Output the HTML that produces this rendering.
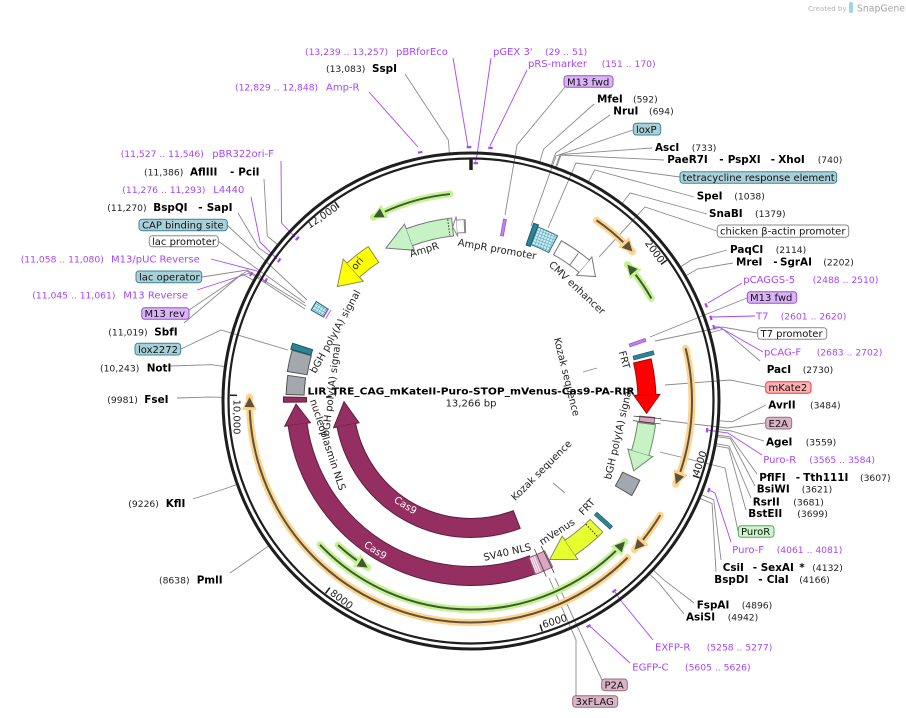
<!DOCTYPE html>
<html><head><meta charset="utf-8"><style>
html,body{margin:0;padding:0;background:#fff;}
svg{display:block;font-family:"DejaVu Sans","Liberation Sans",sans-serif;}
.e{font-weight:bold;font-size:10.4px;fill:#000;}
.n{font-size:9.2px;fill:#222;}
.p{font-size:10px;fill:#a846f5;}
.pn{font-size:9.2px;fill:#a846f5;}
.b{font-size:10px;fill:#111;}
.il{font-size:10px;fill:#222;}
.ll{fill:none;stroke:#8a8a8a;stroke-width:0.9;}
.pl{fill:none;stroke:#a846f5;stroke-width:0.9;}
</style></head><body>
<svg width="906" height="718" viewBox="0 0 906 718" xmlns="http://www.w3.org/2000/svg">
<defs>
<pattern id="grid" width="3" height="3" patternUnits="userSpaceOnUse"><rect width="3" height="3" fill="#c4ecf5"/><path d="M0 0H3M0 0V3" stroke="#2e7f93" stroke-width="0.7"/></pattern>
</defs>
<rect width="906" height="718" fill="#fff"/>

<!-- Created by SnapGene -->
<text x="808" y="11" font-size="7" fill="#b5b5b5">Created by</text>
<rect x="849" y="2" width="4" height="11" rx="1.5" fill="#9fd6ef"/>
<text x="857" y="11.5" font-size="9.3" fill="#a5a5a5">SnapGene</text>

<!-- enzyme leader lines -->
<polyline class="ll" points="405,74 448.3,140 449.5,154"/>
<polyline class="ll" points="594,104 543.5,149.2 539.6,162.7"/>
<polyline class="ll" points="610,115 555.6,153 551,166.3"/>
<polyline class="ll" points="652,148 560.1,154.6 555.4,167.8"/>
<polyline class="ll" points="664,160 561,155 556.1,168.1"/>
<polyline class="ll" points="694,197 594.7,170 588.1,182.4"/>
<polyline class="ll" points="707,214 630.2,192.9 621.7,204"/>
<polyline class="ll" points="727,250 691.7,259.7 679.9,267.3"/>
<polyline class="ll" points="733,263 697.3,269 685.2,276.1"/>
<polyline class="ll" points="760,361 723,329.2 709.5,333"/>
<polyline class="ll" points="766,405 732.2,421.8 718.2,420.7"/>
<polyline class="ll" points="764,441 731.3,431 717.4,429.4"/>
<polyline class="ll" points="757,474 730.5,436.9 716.7,435"/>
<polyline class="ll" points="755,486 730.3,438.6 716.4,436.6"/>
<polyline class="ll" points="751,498 729.1,446 715.3,443.6"/>
<polyline class="ll" points="746,510 728.7,448.2 714.9,445.7"/>
<polyline class="ll" points="721,560 713.7,499.7 700.7,494.4"/>
<polyline class="ll" points="716,572 712.1,503.6 699.2,498.1"/>
<polyline class="ll" points="694,603 663.1,579.2 652.8,569.6"/>
<polyline class="ll" points="684,614 659.1,583.3 649.1,573.6"/>
<polyline class="ll" points="264,179 267.3,236.2 278.2,245"/>
<polyline class="ll" points="238,213 258.6,247.7 269.9,255.8"/>
<polyline class="ll" points="184,323 241.9,273.9 254.1,280.7"/>
<polyline class="ll" points="170,366 211.5,364.7 225.4,366.7"/>
<polyline class="ll" points="177,398 209,397.1 223,397.3"/>
<polyline class="ll" points="193,499 224.3,489 237.4,484.3"/>
<polyline class="ll" points="230,573 257.9,553.5 269.3,545.4"/>

<!-- feature leader lines -->
<polyline class="ll" points="565,87 517,145 505,215"/>
<polyline class="ll" points="633,130 556,156 531,226"/>
<polyline class="ll" points="680,177 576,163 548,228"/>
<polyline class="ll" points="717,231 645,207 599,257"/>
<polyline class="ll" points="747,298 712,312 650,337"/>
<polyline class="ll" points="757,333 722,327 655,341"/>
<polyline class="ll" points="765,387 730,380 665,385"/>
<polyline class="ll" points="765,423 727,428 660,420"/>
<polyline class="ll" points="738,531 725,468 660,452"/>
<polyline class="ll" points="602,680 555,578"/>
<polyline class="ll" points="576,696 576,640 549,578"/>
<polyline class="ll" points="227,225 307,300"/>
<polyline class="ll" points="218,241 305,303"/>
<polyline class="ll" points="202,277 247,270 306,306"/>
<polyline class="ll" points="189,310 247,271 305,309"/>
<polyline class="ll" points="181,349 221,330 288,350"/>
<polyline class="ll" points="583,372 597,368"/>
<polyline class="ll" points="553,483 565,493"/>

<!-- primer lines -->
<polyline class="pl" points="369,92 418,147"/>
<polyline class="pl" points="453,58 468,147"/>
<polyline class="pl" points="491,58 477,155 475.5,162"/>
<polyline class="pl" points="527,70 490,146"/>
<polyline class="pl" points="281,161 281.5,223 295,237"/>
<polyline class="pl" points="251,197 260,242 277,259"/>
<polyline class="pl" points="211,259 257,271 264,281"/>
<polyline class="pl" points="197,290 250,273"/>
<polyline class="pl" points="742,283 708,303"/>
<polyline class="pl" points="755,316 711,317"/>
<polyline class="pl" points="763,352 719,327 714,327"/>
<polyline class="pl" points="762,455 728,433 707,430"/>
<polyline class="pl" points="731,542 715,493 709,490"/>
<polyline class="pl" points="653,640 622,602 615,592"/>
<polyline class="pl" points="630,663 592,628 589,626"/>

<!-- ring -->
<circle cx="471" cy="401" r="248" fill="none" stroke="#1e1e1e" stroke-width="3"/>
<circle cx="471" cy="401" r="242.5" fill="none" stroke="#1e1e1e" stroke-width="2.2"/>
<line x1="471" y1="159" x2="471" y2="170" stroke="#1e1e1e" stroke-width="3.5"/>
<g stroke="#1e1e1e" stroke-width="1.5">
<line x1="471" y1="159.8" x2="471" y2="167" transform="rotate(54.27 471 401)"/>
<line x1="471" y1="159.8" x2="471" y2="167" transform="rotate(108.55 471 401)"/>
<line x1="471" y1="159.8" x2="471" y2="167" transform="rotate(162.82 471 401)"/>
<line x1="471" y1="159.8" x2="471" y2="167" transform="rotate(217.1 471 401)"/>
<line x1="471" y1="159.8" x2="471" y2="167" transform="rotate(271.37 471 401)"/>
<line x1="471" y1="159.8" x2="471" y2="167" transform="rotate(325.64 471 401)"/>
</g>

<!-- primer marks -->
<g fill="#a846f5">
<rect x="469" y="146" width="4.5" height="2.2" transform="rotate(348.4 471 401)"/>
<rect x="469" y="146" width="4.5" height="2.2" transform="rotate(359.5 471 401)"/>
<rect x="469" y="162" width="4.5" height="2.2" transform="rotate(1.09 471 401)"/>
<rect x="469" y="146" width="4.5" height="2.2" transform="rotate(4.34 471 401)"/>
<rect x="469" y="162" width="4.5" height="2.2" transform="rotate(313.05 471 401)"/>
<rect x="469" y="162" width="4.5" height="2.2" transform="rotate(306.2 471 401)"/>
<rect x="469" y="162" width="4.5" height="2.2" transform="rotate(300.38 471 401)"/>
<rect x="469" y="146" width="4.5" height="2.2" transform="rotate(299.94 471 401)"/>
<rect x="469" y="146" width="4.5" height="2.2" transform="rotate(67.82 471 401)"/>
<rect x="469" y="146" width="4.5" height="2.2" transform="rotate(70.83 471 401)"/>
<rect x="469" y="146" width="4.5" height="2.2" transform="rotate(73.05 471 401)"/>
<rect x="469" y="162" width="4.5" height="2.2" transform="rotate(96.99 471 401)"/>
<rect x="469" y="146" width="4.5" height="2.2" transform="rotate(110.48 471 401)"/>
<rect x="469" y="162" width="4.5" height="2.2" transform="rotate(142.93 471 401)"/>
<rect x="469" y="146" width="4.5" height="2.2" transform="rotate(152.37 471 401)"/>
</g>

<!-- ORFs -->
<g fill="none" stroke-linecap="round">
<!-- green highlights -->
<circle cx="471" cy="401" r="208" stroke="#c4f294" stroke-width="7" stroke-dasharray="80.59 3000" transform="rotate(-118 471 401)"/>
<circle cx="471" cy="401" r="207.5" stroke="#c4f294" stroke-width="7" stroke-dasharray="41.65 3000" transform="rotate(-41.1 471 401)"/>
<circle cx="471" cy="401" r="208.5" stroke="#c4f294" stroke-width="7" stroke-dasharray="342.07 3000" transform="rotate(42.4 471 401)"/>
<circle cx="471" cy="401" r="196" stroke="#c4f294" stroke-width="7" stroke-dasharray="37.29 3000" transform="rotate(121.8 471 401)"/>
<!-- orange highlights -->
<circle cx="471" cy="401" r="220" stroke="#ffd38a" stroke-width="7" stroke-dasharray="47.61 3000" transform="rotate(-55.2 471 401)"/>
<circle cx="471" cy="401" r="221" stroke="#ffd38a" stroke-width="7" stroke-dasharray="138.47 3000" transform="rotate(-13.8 471 401)"/>
<circle cx="471" cy="401" r="221" stroke="#ffd38a" stroke-width="7" stroke-dasharray="43.2 3000" transform="rotate(31.1 471 401)"/>
<circle cx="471" cy="401" r="221.5" stroke="#ffd38a" stroke-width="7" stroke-dasharray="525.77 3000" transform="rotate(45 471 401)"/>
</g>
<g fill="none" stroke-width="2">
<circle cx="471" cy="401" r="208" stroke="#3f5a2e" stroke-dasharray="70.43 3000" transform="rotate(-115.2 471 401)"/>
<circle cx="471" cy="401" r="207.5" stroke="#3f5a2e" stroke-dasharray="31.51 3000" transform="rotate(-38.3 471 401)"/>
<circle cx="471" cy="401" r="208.5" stroke="#3f5a2e" stroke-dasharray="331.88 3000" transform="rotate(45.2 471 401)"/>
<circle cx="471" cy="401" r="196" stroke="#3f5a2e" stroke-dasharray="27.37 3000" transform="rotate(124.7 471 401)"/>
<circle cx="471" cy="401" r="220" stroke="#5b5240" stroke-dasharray="37.63 3000" transform="rotate(-55.2 471 401)"/>
<circle cx="471" cy="401" r="221" stroke="#5b5240" stroke-dasharray="128.44 3000" transform="rotate(-13.8 471 401)"/>
<circle cx="471" cy="401" r="221" stroke="#5b5240" stroke-dasharray="33.17 3000" transform="rotate(31.1 471 401)"/>
<circle cx="471" cy="401" r="221.5" stroke="#5b5240" stroke-dasharray="515.71 3000" transform="rotate(45 471 401)"/>
</g>
<!-- ORF heads -->
<g transform="rotate(-28 471 401)"><polygon points="467,193 484,185.5 484,200.5" fill="#c4f294"/><polygon points="471,193 481,188.2 481,198.2" fill="#3f5a2e"/></g>
<g transform="rotate(48.9 471 401)"><polygon points="467,193.5 484,186 484,201" fill="#c4f294"/><polygon points="471,193.5 481,188.7 481,198.7" fill="#3f5a2e"/></g>
<g transform="rotate(132.4 471 401)"><polygon points="467,192.5 484,185 484,200" fill="#c4f294"/><polygon points="471,192.5 481,187.7 481,197.7" fill="#3f5a2e"/></g>
<g transform="rotate(211.8 471 401)"><polygon points="467,205 484,197.5 484,212.5" fill="#c4f294"/><polygon points="471,205 481,200.2 481,210.2" fill="#3f5a2e"/></g>
<g transform="rotate(47.2 471 401)"><polygon points="475,181 458,173.5 458,188.5" fill="#ffd38a"/><polygon points="471,181 461,176.2 461,186.2" fill="#5b5240"/></g>
<g transform="rotate(112.1 471 401)"><polygon points="475,180 458,172.5 458,187.5" fill="#ffd38a"/><polygon points="471,180 461,175.2 461,185.2" fill="#5b5240"/></g>
<g transform="rotate(132.3 471 401)"><polygon points="475,180 458,172.5 458,187.5" fill="#ffd38a"/><polygon points="471,180 461,175.2 461,185.2" fill="#5b5240"/></g>
<g transform="rotate(271 471 401)"><polygon points="475,179.5 458,172 458,187" fill="#ffd38a"/><polygon points="471,179.5 461,174.7 461,184.7" fill="#5b5240"/></g>

<!-- FEATURES -->
<g fill="none">
<!-- outer Cas9 -->
<circle cx="471" cy="401" r="175" stroke="#5e1f3d" stroke-width="20" stroke-dasharray="315 3000" transform="rotate(69.17 471 401)"/>
<polygon points="471,226 449.06,214.29 452.1,240.1" fill="#952f62" stroke="#5e1f3d" stroke-width="1" transform="rotate(269 471 401)"/>
<circle cx="471" cy="401" r="175" stroke="#952f62" stroke-width="18" stroke-dasharray="313.99 3000" transform="rotate(69.5 471 401)"/>
<!-- inner Cas9 -->
<circle cx="471" cy="401" r="127" stroke="#5e1f3d" stroke-width="20" stroke-dasharray="222.4 3000" transform="rotate(68.65 471 401)"/>
<polygon points="471,274 445.01,263.44 449.83,288.98" fill="#952f62" stroke="#5e1f3d" stroke-width="1" transform="rotate(269.7 471 401)"/>
<circle cx="471" cy="401" r="127" stroke="#952f62" stroke-width="18" stroke-dasharray="221.43 3000" transform="rotate(69.1 471 401)"/>

<!-- AmpR -->
<circle cx="471" cy="401" r="175" stroke="#787878" stroke-width="19" stroke-dasharray="44.98 3000" transform="rotate(-110.6 471 401)"/>
<polygon points="471,226 498.94,214.07 494.8,241.77" fill="#c6f2c6" stroke="#787878" stroke-width="1" transform="rotate(-29.1 471 401)"/>
<circle cx="471" cy="401" r="175" stroke="#c6f2c6" stroke-width="17" stroke-dasharray="43.98 3000" transform="rotate(-110.6 471 401)"/>
<line x1="471" y1="218" x2="471" y2="234" stroke="#333" stroke-width="1" stroke-dasharray="1.5 1.5" transform="rotate(-7.3 471 401)"/>
<!-- AmpR promoter -->
<circle cx="471" cy="401" r="175" stroke="#888" stroke-width="14" stroke-dasharray="9.02 3000" transform="rotate(-94.6 471 401)"/>
<polygon points="471,226 475.52,216.05 475.04,236.05" fill="#fff" stroke="#888" stroke-width="1" transform="rotate(-6 471 401)"/>
<circle cx="471" cy="401" r="175" stroke="#fff" stroke-width="12" stroke-dasharray="7.02 3000" transform="rotate(-94.6 471 401)"/>
<!-- ori -->
<circle cx="471" cy="401" r="176" stroke="#8a8a5a" stroke-width="20" stroke-dasharray="26.19 3000" transform="rotate(-132 471 401)"/>
<polygon points="471,225 495.6,211.6 491.7,241.3" fill="#ffff00" stroke="#8a8a5a" stroke-width="1" transform="rotate(-49.4 471 401)"/>
<circle cx="471" cy="401" r="176" stroke="#ffff00" stroke-width="18" stroke-dasharray="25.19 3000" transform="rotate(-132 471 401)"/>
<!-- CMV enhancer -->
<circle cx="471" cy="401" r="176" stroke="#777" stroke-width="17" stroke-dasharray="32.95 3000" transform="rotate(-60.73 471 401)"/>
<polygon points="471,225 454.6,213.7 456.7,237.6" fill="#fff" stroke="#777" stroke-width="1" transform="rotate(45 471 401)"/>
<circle cx="471" cy="401" r="176" stroke="#fff" stroke-width="15" stroke-dasharray="31.95 3000" transform="rotate(-60.4 471 401)"/>
<line x1="471" y1="218.5" x2="471" y2="233.5" stroke="#777" stroke-width="1" transform="rotate(36 471 401)"/>
<!-- TRE -->
<circle cx="471" cy="401" r="177" stroke="#2d6e7e" stroke-width="20" stroke-dasharray="22.7 3000" transform="rotate(-69.52 471 401)"/>
<circle cx="471" cy="401" r="177" stroke="url(#grid)" stroke-width="18" stroke-dasharray="20.7 3000" transform="rotate(-69.2 471 401)"/>
<!-- loxP -->
<circle cx="471" cy="401" r="177" stroke="#1d5563" stroke-width="24" stroke-dasharray="5.7 3000" transform="rotate(-70.72 471 401)"/>
<circle cx="471" cy="401" r="177" stroke="#2b8597" stroke-width="22" stroke-dasharray="3.7 3000" transform="rotate(-70.4 471 401)"/>
<!-- small hatched (lac) -->
<circle cx="471" cy="401" r="177" stroke="#2d6e7e" stroke-width="15" stroke-dasharray="10.65 3000" transform="rotate(-150.52 471 401)"/>
<circle cx="471" cy="401" r="177" stroke="url(#grid)" stroke-width="13" stroke-dasharray="8.65 3000" transform="rotate(-150.2 471 401)"/>
<circle cx="471" cy="401" r="167" stroke="#b060f0" stroke-width="1" stroke-dasharray="10.2 3000" transform="rotate(-150.5 471 401)"/>
<circle cx="471" cy="401" r="169.5" stroke="#b060f0" stroke-width="1" stroke-dasharray="10.3 3000" transform="rotate(-150.5 471 401)"/>
<!-- mKate2 -->
<circle cx="471" cy="401" r="176" stroke="#b00000" stroke-width="19" stroke-dasharray="34.79 3000" transform="rotate(-13.33 471 401)"/>
<polygon points="471,225 451.25,213.04 453.97,238.9" fill="#ff0000" stroke="#b00000" stroke-width="1" transform="rotate(94 471 401)"/>
<circle cx="471" cy="401" r="176" stroke="#ff0000" stroke-width="17" stroke-dasharray="33.79 3000" transform="rotate(-13 471 401)"/>
<!-- E2A -->
<circle cx="471" cy="401" r="177" stroke="#8c5b72" stroke-width="16" stroke-dasharray="6.94 3000" transform="rotate(4.98 471 401)"/>
<circle cx="471" cy="401" r="177" stroke="#d7a6bd" stroke-width="14" stroke-dasharray="4.94 3000" transform="rotate(5.3 471 401)"/>
<line x1="471" y1="210" x2="471" y2="238" stroke="#333" stroke-width="0.7" transform="rotate(95.3 471 401)"/>
<line x1="471" y1="210" x2="471" y2="238" stroke="#333" stroke-width="0.7" transform="rotate(96.9 471 401)"/>
<!-- PuroR -->
<circle cx="471" cy="401" r="177" stroke="#6c8c6c" stroke-width="19" stroke-dasharray="30.35 3000" transform="rotate(7.18 471 401)"/>
<polygon points="471,224 450.48,212.1 453.28,237.95" fill="#c6f2c6" stroke="#6c8c6c" stroke-width="1" transform="rotate(113.2 471 401)"/>
<circle cx="471" cy="401" r="177" stroke="#c6f2c6" stroke-width="17" stroke-dasharray="29.35 3000" transform="rotate(7.5 471 401)"/>
<!-- bGH grey right -->
<circle cx="471" cy="401" r="177" stroke="#555" stroke-width="20" stroke-dasharray="17.44 3000" transform="rotate(24.98 471 401)"/>
<circle cx="471" cy="401" r="177" stroke="#a3a7ae" stroke-width="18" stroke-dasharray="15.44 3000" transform="rotate(25.3 471 401)"/>
<!-- mVenus -->
<circle cx="471" cy="401" r="177" stroke="#8a8a6a" stroke-width="19" stroke-dasharray="34.98 3000" transform="rotate(44.68 471 401)"/>
<polygon points="471,224 445.73,211.68 449.43,239.44" fill="#e6ff2e" stroke="#8a8a6a" stroke-width="1" transform="rotate(153.6 471 401)"/>
<circle cx="471" cy="401" r="177" stroke="#e6ff2e" stroke-width="17" stroke-dasharray="33.98 3000" transform="rotate(45 471 401)"/>
<line x1="471" y1="216" x2="471" y2="233" stroke="#222" stroke-width="1" stroke-dasharray="1.5 1.5" transform="rotate(137 471 401)"/>
<!-- P2A / SV40 -->
<circle cx="471" cy="401" r="176" stroke="#8c5b72" stroke-width="19" stroke-dasharray="18.9 3000" transform="rotate(63.67 471 401)"/>
<circle cx="471" cy="401" r="176" stroke="#d9a5c0" stroke-width="17" stroke-dasharray="9.83 3000" transform="rotate(64 471 401)"/>
<circle cx="471" cy="401" r="176" stroke="#e2a9c4" stroke-width="17" stroke-dasharray="7.07 3000" transform="rotate(67.2 471 401)"/>
<g stroke="#fff" stroke-width="0.8">
<line x1="471" y1="217" x2="471" y2="233" transform="rotate(157.9 471 401)"/>
<line x1="471" y1="217" x2="471" y2="233" transform="rotate(158.6 471 401)"/>
<line x1="471" y1="217" x2="471" y2="233" transform="rotate(159.2 471 401)"/>
</g>
<g stroke="#333" stroke-width="0.7">
<line x1="471" y1="210" x2="471" y2="240" transform="rotate(154.2 471 401)"/>
<line x1="471" y1="210" x2="471" y2="240" transform="rotate(156.8 471 401)"/>
</g>
<!-- nucleoplasmin -->
<circle cx="471" cy="401" r="176" stroke="#5e1f3d" stroke-width="24" stroke-dasharray="5.99 3000" transform="rotate(179.47 471 401)"/>
<circle cx="471" cy="401" r="176" stroke="#952f62" stroke-width="22" stroke-dasharray="3.99 3000" transform="rotate(179.8 471 401)"/>
<!-- grey boxes left -->
<circle cx="471" cy="401" r="176" stroke="#555" stroke-width="19" stroke-dasharray="19.2 3000" transform="rotate(181.87 471 401)"/>
<circle cx="471" cy="401" r="176" stroke="#a3a7ae" stroke-width="17" stroke-dasharray="17.2 3000" transform="rotate(182.2 471 401)"/>
<circle cx="471" cy="401" r="176" stroke="#555" stroke-width="21" stroke-dasharray="21.66 3000" transform="rotate(188.97 471 401)"/>
<circle cx="471" cy="401" r="176" stroke="#a3a7ae" stroke-width="19" stroke-dasharray="19.66 3000" transform="rotate(189.3 471 401)"/>
<!-- lox2272 -->
<circle cx="471" cy="401" r="177" stroke="#1d5563" stroke-width="22" stroke-dasharray="6.94 3000" transform="rotate(195.88 471 401)"/>
<circle cx="471" cy="401" r="177" stroke="#2b8597" stroke-width="20" stroke-dasharray="4.94 3000" transform="rotate(196.2 471 401)"/>
</g>
<!-- thin bars -->
<rect x="469.5" y="216" width="3" height="17" fill="#c080f0" stroke="#8e44c8" stroke-width="0.6" transform="rotate(10.6 471 401)"/>
<rect x="469.5" y="216" width="3" height="17" fill="#c080f0" stroke="#8e44c8" stroke-width="0.6" transform="rotate(70.7 471 401)"/>
<rect x="469" y="212" width="4" height="21" fill="#2b8597" stroke="#1d5563" stroke-width="0.6" transform="rotate(75.2 471 401)"/>
<rect x="469" y="212" width="4" height="21" fill="#2b8597" stroke="#1d5563" stroke-width="0.6" transform="rotate(132.1 471 401)"/>

<!-- tick labels -->
<g class="il" text-anchor="middle" dominant-baseline="central">
<text x="654" y="252" transform="rotate(54 654 252)">2000</text>
<text x="700.5" y="463.5" transform="rotate(-71.5 700.5 463.5)">4000</text>
<text x="555" y="622" transform="rotate(-17 555 622)">6000</text>
<text x="341" y="600" transform="rotate(37 341 600)">8000</text>
<text x="236" y="417" transform="rotate(90 236 417)">10,000</text>
<text x="322.5" y="217" transform="rotate(-34 322.5 217)">12,000</text>
</g>

<!-- inner labels -->
<g class="il" text-anchor="middle" dominant-baseline="central">
<text x="424.5" y="250.5" transform="rotate(-17 424.5 250.5)">AmpR</text>
<text x="497" y="250" transform="rotate(10 497 250)">AmpR promoter</text>
<text x="576.5" y="288.5" transform="rotate(43 576.5 288.5)">CMV enhancer</text>
<text x="358" y="264" transform="rotate(-50 358 264)">ori</text>
<text x="336" y="332" transform="rotate(-61 336 332)">bGH poly(A) signal</text>
<text x="332" y="390" transform="rotate(-83 332 390)">bGH poly(A) signal</text>
<text x="327" y="445" transform="rotate(72 327 445)">nucleoplasmin NLS</text>
<text x="566" y="377" transform="rotate(76 566 377)">Kozak sequence</text>
<text x="542" y="471" transform="rotate(-45 542 471)">Kozak sequence</text>
<text x="623.5" y="360" transform="rotate(75 623.5 360)">FRT</text>
<text x="619" y="434" transform="rotate(-77 619 434)">bGH poly(A) signal</text>
<text x="587.5" y="507.5" transform="rotate(-47 587.5 507.5)">FRT</text>
<text x="557.5" y="532.5" transform="rotate(-33 557.5 532.5)">mVenus</text>
<text x="507.5" y="553" transform="rotate(-13 507.5 553)">SV40 NLS</text>
<text x="405" y="506" fill="#fff" style="fill:#fff" transform="rotate(32 405 506)">Cas9</text>
<text x="375" y="551" fill="#fff" style="fill:#fff" transform="rotate(33 375 551)">Cas9</text>
</g>

<!-- title -->
<text x="471" y="394.5" text-anchor="middle" font-weight="bold" font-size="10" fill="#000" textLength="327" lengthAdjust="spacingAndGlyphs">LIR_TRE_CAG_mKateII-Puro-STOP_mVenus-Cas9-PA-RIR</text>
<text x="471" y="406.5" text-anchor="middle" font-size="10" fill="#222">13,266 bp</text>

<!-- label boxes -->
<g stroke-width="1">
<rect x="564" y="75.7" width="49" height="11.6" rx="3" fill="#dbb4f7" stroke="#9b4fd0"/>
<rect x="633.3" y="123.3" width="27.4" height="11.7" rx="3" fill="#a9d0d9" stroke="#3d8595"/>
<rect x="680" y="171.7" width="156.7" height="11.6" rx="3" fill="#a9d0d9" stroke="#3d8595"/>
<rect x="717.3" y="225" width="131.4" height="12.3" rx="3" fill="#fff" stroke="#888"/>
<rect x="747.3" y="291.7" width="49.4" height="11.6" rx="3" fill="#dbb4f7" stroke="#9b4fd0"/>
<rect x="757.7" y="327.7" width="69" height="11.6" rx="3" fill="#fff" stroke="#888"/>
<rect x="765.7" y="381.7" width="45.3" height="11.6" rx="3" fill="#ffb3b3" stroke="#ff3030"/>
<rect x="765.7" y="417.3" width="26" height="11.7" rx="3" fill="#dab3c7" stroke="#9a6b82"/>
<rect x="738.3" y="525.7" width="35.7" height="11.6" rx="3" fill="#ccf5cc" stroke="#5fa05f"/>
<rect x="601.7" y="679" width="25.6" height="11.7" rx="3" fill="#dab3c7" stroke="#9a6b82"/>
<rect x="572.7" y="695.7" width="45" height="11.6" rx="3" fill="#dab3c7" stroke="#9a6b82"/>
<rect x="139" y="219.3" width="88.3" height="11.4" rx="3" fill="#a9d0d9" stroke="#3d8595"/>
<rect x="149.3" y="235.7" width="69" height="11" rx="3" fill="#fff" stroke="#888"/>
<rect x="136" y="271" width="65.7" height="11.7" rx="3" fill="#a9d0d9" stroke="#3d8595"/>
<rect x="141.7" y="307.7" width="47.3" height="11.6" rx="3" fill="#dbb4f7" stroke="#9b4fd0"/>
<rect x="135" y="343.3" width="45.7" height="11.7" rx="3" fill="#a9d0d9" stroke="#3d8595"/>
</g>
<g class="b">
<text x="567" y="85.3">M13 fwd</text>
<text x="636" y="132.8">loxP</text>
<text x="682.5" y="181.2">tetracycline response element</text>
<text x="720" y="234.7">chicken β-actin promoter</text>
<text x="750" y="301.2">M13 fwd</text>
<text x="760.5" y="337.2">T7 promoter</text>
<text x="768.5" y="391.2">mKate2</text>
<text x="768.5" y="426.8">E2A</text>
<text x="741" y="535.2">PuroR</text>
<text x="604.5" y="688.5">P2A</text>
<text x="575.5" y="705.2">3xFLAG</text>
<text x="142" y="228.6">CAP binding site</text>
<text x="152" y="244.8">lac promoter</text>
<text x="139" y="280.5">lac operator</text>
<text x="144.5" y="317.2">M13 rev</text>
<text x="138" y="352.8">lox2272</text>
</g>

<!-- primer labels -->
<text class="pn" x="305" y="55">(13,239 .. 13,257)</text>
<text class="p" x="396" y="55">pBRforEco</text>
<text class="pn" x="235" y="90.3">(12,829 .. 12,848)</text>
<text class="p" x="326" y="90.3">Amp-R</text>
<text class="p" x="493" y="55">pGEX 3'</text>
<text class="pn" x="545" y="55">(29 .. 51)</text>
<text class="p" x="528" y="67">pRS-marker</text>
<text class="pn" x="601.7" y="67">(151 .. 170)</text>
<text class="p" x="743.3" y="282.9">pCAGGS-5</text>
<text class="pn" x="812.7" y="282.9">(2488 .. 2510)</text>
<text class="p" x="756" y="319.3">T7</text>
<text class="pn" x="780.7" y="319.3">(2601 .. 2620)</text>
<text class="p" x="764" y="355.3">pCAG-F</text>
<text class="pn" x="816.7" y="355.3">(2683 .. 2702)</text>
<text class="p" x="763.3" y="462.9">Puro-R</text>
<text class="pn" x="809.3" y="462.9">(3565 .. 3584)</text>
<text class="p" x="732.3" y="552.9">Puro-F</text>
<text class="pn" x="776.7" y="552.9">(4061 .. 4081)</text>
<text class="p" x="655" y="650.3">EXFP-R</text>
<text class="pn" x="706.7" y="650.3">(5258 .. 5277)</text>
<text class="p" x="632.3" y="670.3">EGFP-C</text>
<text class="pn" x="685" y="670.3">(5605 .. 5626)</text>
<text class="pn" x="120.7" y="156.9">(11,527 .. 11,546)</text>
<text class="p" x="212.3" y="156.9">pBR322ori-F</text>
<text class="pn" x="122.3" y="192.9">(11,276 .. 11,293)</text>
<text class="p" x="213.3" y="192.9">L4440</text>
<text class="pn" x="20.7" y="262.6">(11,058 .. 11,080)</text>
<text class="p" x="111" y="262.6">M13/pUC Reverse</text>
<text class="pn" x="32.3" y="298.6">(11,045 .. 11,061)</text>
<text class="p" x="123.3" y="298.6">M13 Reverse</text>

<!-- enzyme labels -->
<text class="n" x="326" y="72">(13,083)</text><text class="e" x="372" y="72">SspI</text>
<text class="e" x="597" y="102.6">MfeI</text><text class="n" x="633" y="102.6">(592)</text>
<text class="e" x="613.3" y="114.6">NruI</text><text class="n" x="649" y="114.6">(694)</text>
<text class="e" x="655" y="150.9">AscI</text><text class="n" x="691.7" y="150.9">(733)</text>
<text class="e" x="667.3" y="162.9">PaeR7I</text><text class="e" x="719.3" y="162.9">-</text><text class="e" x="727.7" y="162.9">PspXI</text><text class="e" x="770.7" y="162.9">-</text><text class="e" x="778.3" y="162.9">XhoI</text><text class="n" x="817.7" y="162.9">(740)</text>
<text class="e" x="696.7" y="199.3">SpeI</text><text class="n" x="734.3" y="199.3">(1038)</text>
<text class="e" x="709" y="216.9">SnaBI</text><text class="n" x="755" y="216.9">(1379)</text>
<text class="e" x="730" y="252.9">PaqCI</text><text class="n" x="775.7" y="252.9">(2114)</text>
<text class="e" x="736" y="265.3">MreI</text><text class="e" x="773.3" y="265.3">-</text><text class="e" x="780" y="265.3">SgrAI</text><text class="n" x="823.3" y="265.3">(2202)</text>
<text class="e" x="766.7" y="372.9">PacI</text><text class="n" x="802.7" y="372.9">(2730)</text>
<text class="e" x="768.3" y="408.6">AvrII</text><text class="n" x="810" y="408.6">(3484)</text>
<text class="e" x="766" y="445.3">AgeI</text><text class="n" x="805.7" y="445.3">(3559)</text>
<text class="e" x="759.3" y="480.9">PflFI</text><text class="e" x="795.7" y="480.9">-</text><text class="e" x="803.3" y="480.9">Tth111I</text><text class="n" x="860" y="480.9">(3607)</text>
<text class="e" x="756.7" y="492.6">BsiWI</text><text class="n" x="801.7" y="492.6">(3621)</text>
<text class="e" x="752.7" y="505.3">RsrII</text><text class="n" x="793.3" y="505.3">(3681)</text>
<text class="e" x="748.3" y="516.9">BstEII</text><text class="n" x="797.3" y="516.9">(3699)</text>
<text class="e" x="722.7" y="570.9">CsiI</text><text class="e" x="752.7" y="570.9">-</text><text class="e" x="760.7" y="570.9">SexAI</text><text class="e" x="799.3" y="570.9">*</text><text class="n" x="812.3" y="570.9">(4132)</text>
<text class="e" x="714.3" y="582.9">BspDI</text><text class="e" x="758.3" y="582.9">-</text><text class="e" x="766.7" y="582.9">ClaI</text><text class="n" x="799.3" y="582.9">(4166)</text>
<text class="e" x="696.7" y="608.6">FspAI</text><text class="n" x="741.7" y="608.6">(4896)</text>
<text class="e" x="686" y="620.3">AsiSI</text><text class="n" x="727.7" y="620.3">(4942)</text>
<text class="n" x="144" y="175.3">(11,386)</text><text class="e" x="190" y="175.3">AflIII</text><text class="e" x="230" y="175.3">-</text><text class="e" x="238.3" y="175.3">PciI</text>
<text class="n" x="107.3" y="210.9">(11,270)</text><text class="e" x="153.3" y="210.9">BspQI</text><text class="e" x="198.3" y="210.9">-</text><text class="e" x="206.7" y="210.9">SapI</text>
<text class="n" x="108.3" y="335.3">(11,019)</text><text class="e" x="154.3" y="335.3">SbfI</text>
<text class="n" x="100" y="371.3">(10,243)</text><text class="e" x="146.7" y="371.3">NotI</text>
<text class="n" x="107.3" y="402.9">(9981)</text><text class="e" x="144.3" y="402.9">FseI</text>
<text class="n" x="128.3" y="506.9">(9226)</text><text class="e" x="165.7" y="506.9">KflI</text>
<text class="n" x="159" y="583.6">(8638)</text><text class="e" x="196.7" y="583.6">PmlI</text>
</svg>
</body></html>
